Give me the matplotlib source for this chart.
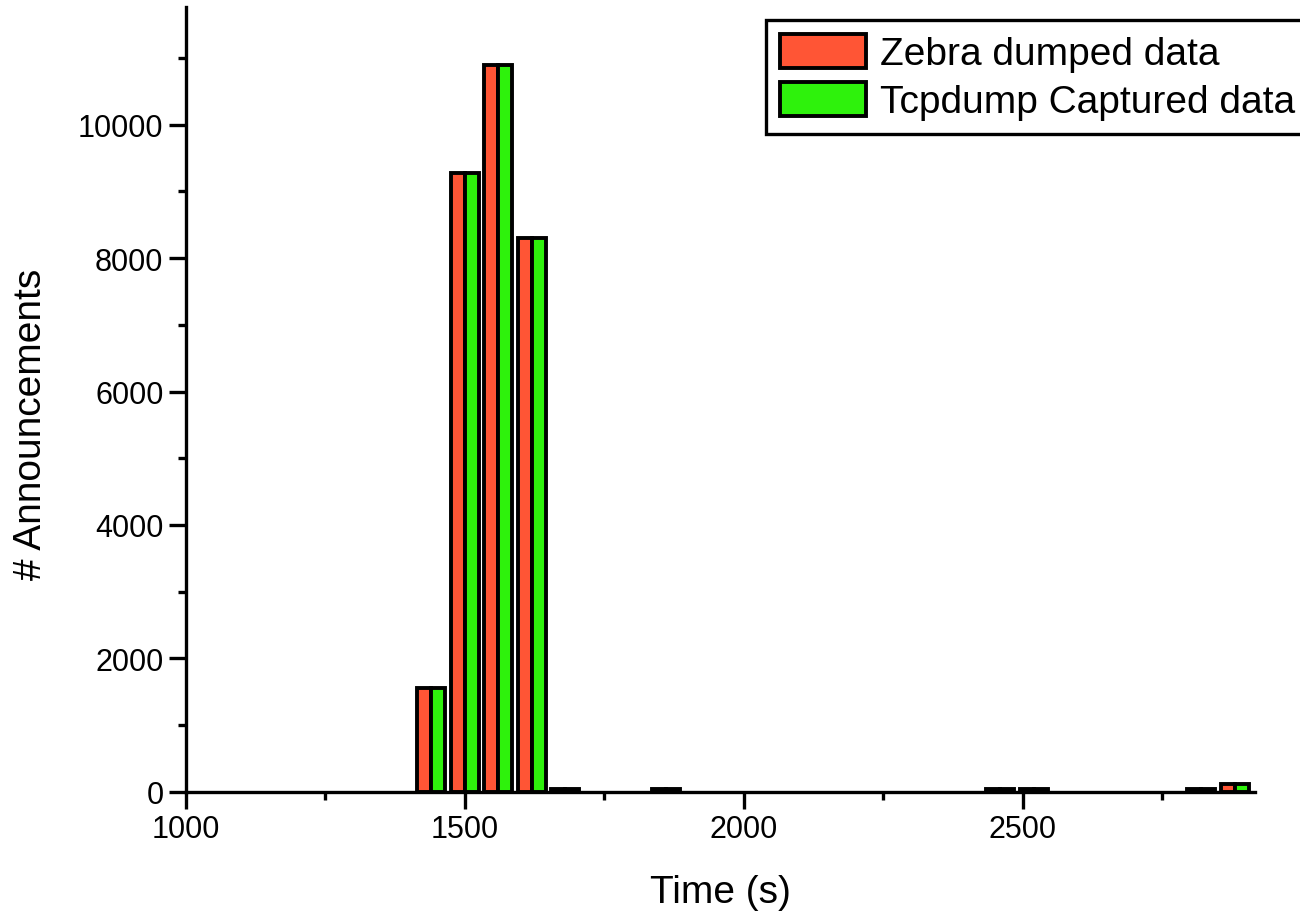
import numpy as np
import matplotlib
matplotlib.use('Agg')
import matplotlib.pyplot as plt
from matplotlib.ticker import MultipleLocator

# bin start times (s) and announcement counts per bin
bin_times = [1440, 1500, 1560, 1620, 1680, 1860, 2460, 2520, 2820, 2880]
zebra_counts = [1550, 9270, 10900, 8300, 40, 40, 40, 40, 40, 110]
tcpdump_counts = [1550, 9270, 10900, 8300, 40, 40, 40, 40, 40, 110]
series_labels = ['Zebra dumped data', 'Tcpdump Captured data']
x_ticks = [1000, 1500, 2000, 2500]
y_ticks = [0, 2000, 4000, 6000, 8000, 10000]

RED = '#FF5535'
GREEN = '#2EF20C'

plt.rcParams['font.family'] = ['Liberation Sans', 'DejaVu Sans']

fig = plt.figure(figsize=(13, 9.12), dpi=100)
ax = fig.add_axes([0.1428, 0.1308, 0.8225, 0.860])

width = 25
x = np.array(bin_times)
ax.bar(x - width / 2, zebra_counts, width, color=RED, edgecolor='black',
       linewidth=2.8, label=series_labels[0])
ax.bar(x + width / 2, tcpdump_counts, width, color=GREEN, edgecolor='black',
       linewidth=2.8, label=series_labels[1])

ax.set_xlim(1000, 2916)
ax.set_ylim(0, 11760)
ax.set_xticks(x_ticks)
ax.set_yticks(y_ticks)
ax.xaxis.set_minor_locator(MultipleLocator(250))
ax.yaxis.set_minor_locator(MultipleLocator(1000))

for side in ['top', 'right']:
    ax.spines[side].set_visible(False)
for side in ['left', 'bottom']:
    ax.spines[side].set_linewidth(2.4)

ax.tick_params(which='major', direction='out', length=12, width=2.4,
               labelsize=22, pad=4)
ax.tick_params(which='minor', direction='out', length=6, width=2.4)

ax.set_xlabel('Time (s)', fontsize=28, labelpad=22)
ax.set_ylabel('# Announcements', fontsize=28)
ax.yaxis.set_label_coords(-0.128, 0.470)

leg = ax.legend(loc='upper left', bbox_to_anchor=(766 / 1300, 1 - 21 / 912),
                bbox_transform=fig.transFigure, borderaxespad=0,
                fontsize=28, handlelength=2.2, handleheight=0.95,
                handletextpad=0.38, labelspacing=0.26, borderpad=0.36,
                fancybox=False, framealpha=1, edgecolor='black')
leg.get_frame().set_linewidth(2.4)

plt.savefig('out.png', dpi=100, facecolor='white')
plt.close()
